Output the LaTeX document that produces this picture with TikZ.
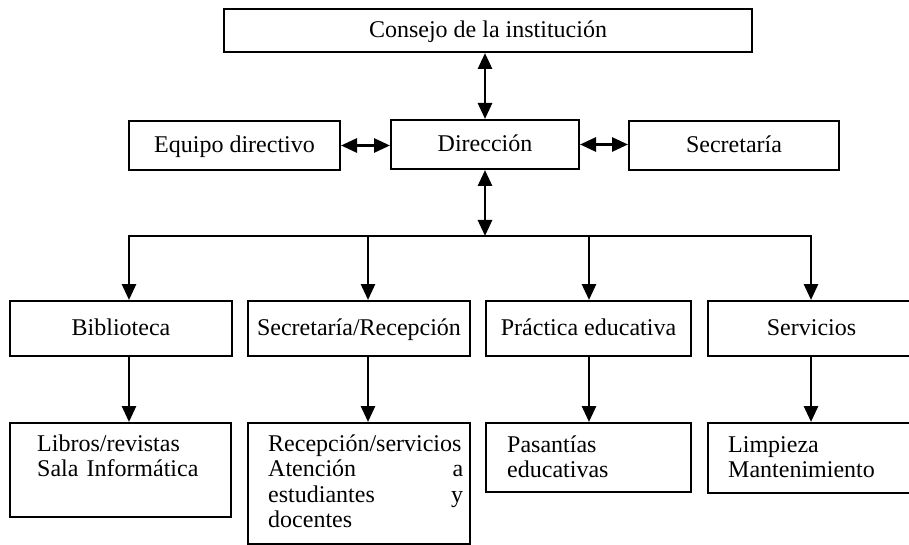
\documentclass[tikz,border=0pt]{standalone}
\usepackage{fontspec}
\setmainfont{Liberation Serif}
\usetikzlibrary{arrows.meta}

\begin{document}
\begin{tikzpicture}[x=1pt,y=-1pt,
  box/.style={rectangle, draw=boxdraw, fill=boxfill, text=boxtext, line width=2pt, inner sep=0pt, text height=18pt, text depth=4pt, font=\fontsize{24}{25.5}\selectfont},
  txt/.style={inner sep=0pt, text=boxtext, font=\fontsize{24}{25.5}\selectfont, text width=172pt, align=left, anchor=base west},
  arr/.style={draw=linedraw, line width=2.8pt, -{Triangle[length=16pt,width=14pt]}},
  dblarr/.style={arr, {Triangle[length=16pt,width=14pt]}-{Triangle[length=16pt,width=14pt]}}]
%Define all colors here.

\definecolor{boxfill}{RGB}{255,255,255}
\definecolor{boxtext}{RGB}{0,0,0}
\definecolor{boxdraw}{RGB}{0,0,0}
\definecolor{linedraw}{RGB}{0,0,0}
\useasboundingbox (0,0) rectangle (909,545);

\node(n0) at (488,30.5) [box, minimum width=528pt, minimum height=43pt] {Consejo de la institución};
\node(n1) at (234.5,145.5) [box, minimum width=211pt, minimum height=49pt] {Equipo directivo};
\node(n2) at (485,144.5) [box, minimum width=188pt, minimum height=49pt] {Dirección};
\node(n3) at (734,145.5) [box, minimum width=210pt, minimum height=49pt] {Secretaría};

\node(n4) at (121,328.5) [box, minimum width=222pt, minimum height=55pt] {Biblioteca};
\node(n5) at (359,328.5) [box, minimum width=222pt, minimum height=55pt] {Secretaría/Recepción};
\node(n6) at (588.5,328.5) [box, minimum width=205pt, minimum height=55pt] {Práctica educativa};
\node(n7) at (811.5,328.5) [box, minimum width=207pt, minimum height=55pt] {Servicios};

\node(n8) at (120.5,470) [box, minimum width=221pt, minimum height=94pt] {};
\node(n9) at (359,483.5) [box, minimum width=222pt, minimum height=121pt] {};
\node(n10) at (588.5,457.5) [box, minimum width=205pt, minimum height=69pt] {};
\node(n11) at (811.5,458) [box, minimum width=207pt, minimum height=70pt] {};

\node(t8) at (37,451) [txt] {Libros/revistas\\Sala Informática};
\node(t9) at (268,451) [txt, text width=195pt, align=justify] {Recepción/servicios\\Atención\hfill a\\estudiantes\hfill y\\docentes};
\node(t10) at (507,452) [txt] {Pasantías\\educativas};
\node(t11) at (728,452) [txt] {Limpieza\\Mantenimiento};

\coordinate(b1) at (129,236);
\coordinate(b2) at (368,236);
\coordinate(b3) at (589,236);
\coordinate(b4) at (811,236);

\draw[dblarr] (n2.north) -- (n2.north |- n0.south);
\draw[dblarr] (n1.east) -- (n1.east -| n2.west);
\draw[dblarr] (n2.east) -- (n2.east -| n3.west);
\draw[dblarr] (n2.south) -- (n2.south |- b1);
\draw[draw=linedraw, line width=2.8pt, line cap=rect] (b1) -- (b4);
\draw[arr] (b1) -- (b1 |- n4.north);
\draw[arr] (b2) -- (b2 |- n5.north);
\draw[arr] (b3) -- (b3 |- n6.north);
\draw[arr] (b4) -- (b4 |- n7.north);
\draw[arr] (b1 |- n4.south) -- (b1 |- n8.north);
\draw[arr] (b2 |- n5.south) -- (b2 |- n9.north);
\draw[arr] (b3 |- n6.south) -- (b3 |- n10.north);
\draw[arr] (b4 |- n7.south) -- (b4 |- n11.north);
\end{tikzpicture}
\end{document}
